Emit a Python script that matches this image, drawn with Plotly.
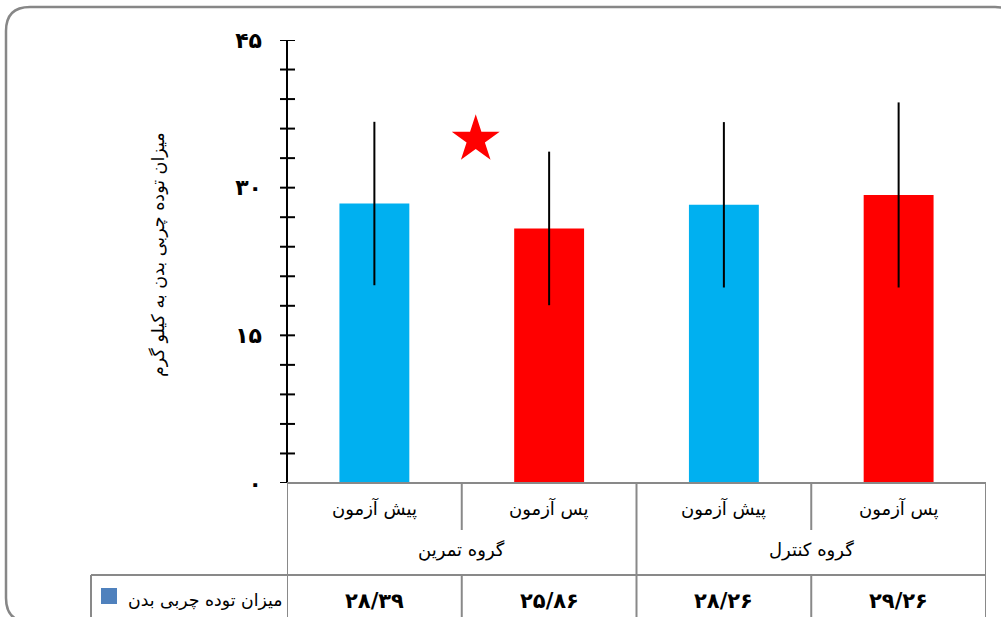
import plotly.graph_objects as go

# ---------------- data ----------------
categories = ["پیش آزمون", "پس آزمون", "پیش آزمون", "پس آزمون"]
groups = ["گروه تمرین", "گروه کنترل"]
values = [28.39, 25.86, 28.26, 29.26]
errors = [8.3, 7.8, 8.4, 9.4]
bar_colors = ["#00B0F0", "#FF0000", "#00B0F0", "#FF0000"]
series_name = "میزان توده چربی بدن"
y_title = "میزان توده چربی بدن به کیلو گرم"
y_tickvals = [0, 15, 30, 45]
y_ticktext = ["۰", "۱۵", "۳۰", "۴۵"]
star_x = [0.58]
star_y = [34.9]

FA = str.maketrans("0123456789.", "۰۱۲۳۴۵۶۷۸۹/")
value_labels = [f"{v:.2f}".translate(FA) for v in values]

# ---------------- layout geometry ----------------
W, H = 1001, 617
L, R, T, B = 287, 15, 40, 134
PW, PH = W - L - R, H - T - B
FONT = "DejaVu Sans"
GRID = "#898989"


def px(xp):
    return (xp - L) / PW


def py(yp):
    return (H - B - yp) / PH


x_idx = list(range(len(categories)))

fig = go.Figure()
fig.add_trace(go.Bar(
    x=x_idx, y=values, width=0.4, marker=dict(color=bar_colors, line=dict(width=0)),
    error_y=dict(type="data", array=errors, visible=True, color="black", thickness=2, width=0),
    showlegend=False,
))
fig.add_trace(go.Scatter(
    x=star_x, y=star_y, mode="markers", cliponaxis=False, showlegend=False,
    marker=dict(symbol="star", size=36, color="#FF0000", line=dict(width=0)),
))

shapes = []
# y axis ticks (crossing the axis)
for v in range(0, 46, 3):
    shapes.append(dict(type="line", xref="paper", yref="y", x0=px(280), x1=px(295), y0=v, y1=v,
                       line=dict(color="black", width=2)))
# y axis line
shapes.append(dict(type="line", xref="paper", yref="y", x0=0, x1=0, y0=0, y1=45,
                   line=dict(color="black", width=2)))

# table lines
row1 = py(530)
row2 = py(575)
bottom = py(640)
left_edge = -0.5
right_edge = len(categories) - 0.5


def hline(x0, x1, y, xref="x"):
    shapes.append(dict(type="line", xref=xref, yref="paper", x0=x0, x1=x1, y0=y, y1=y,
                       line=dict(color=GRID, width=2)))


def vline(x, y0, y1, xref="x"):
    shapes.append(dict(type="line", xref=xref, yref="paper", x0=x, x1=x, y0=y0, y1=y1,
                       line=dict(color=GRID, width=2)))


hline(left_edge, right_edge, 0)
vline(left_edge, 0, bottom)
vline(right_edge, 0, bottom)
vline(1.5, 0, bottom)
for xb in (0.5, 2.5):
    vline(xb, 0, row1)
    vline(xb, row2, bottom)
# legend row top line and left edge
shapes.append(dict(type="line", xref="paper", yref="paper", x0=px(91), x1=1, y0=row2, y1=row2,
                   line=dict(color=GRID, width=2)))
shapes.append(dict(type="line", xref="paper", yref="paper", x0=px(91), x1=px(91), y0=row2, y1=bottom,
                   line=dict(color=GRID, width=2)))
# legend swatch
shapes.append(dict(type="rect", xref="paper", yref="paper", x0=px(101), x1=px(117), y0=py(604), y1=py(588),
                   fillcolor="#4F81BD", line=dict(width=0)))

# outer rounded border
r = 24
x0b, y0b, x1b, y1b = 6, 7, 1019, 622


def pt(xp, yp):
    return f"{px(xp)},{py(yp)}"


path = (f"M {pt(x0b + r, y0b)} L {pt(x1b - r, y0b)} Q {pt(x1b, y0b)} {pt(x1b, y0b + r)} "
        f"L {pt(x1b, y1b - r)} Q {pt(x1b, y1b)} {pt(x1b - r, y1b)} "
        f"L {pt(x0b + r, y1b)} Q {pt(x0b, y1b)} {pt(x0b, y1b - r)} "
        f"L {pt(x0b, y0b + r)} Q {pt(x0b, y0b)} {pt(x0b + r, y0b)} Z")
shapes.append(dict(type="path", xref="paper", yref="paper", path=path,
                   line=dict(color="#878787", width=2.5), fillcolor="rgba(0,0,0,0)"))

annotations = []


def ann(x, y, text, size, xref="x", bold=False, xanchor="center", angle=0):
    f = dict(family=FONT, size=size, color="black")
    if bold:
        f["weight"] = "bold"
    annotations.append(dict(x=x, y=y, xref=xref, yref="paper", text=text, showarrow=False,
                            xanchor=xanchor, yanchor="middle", textangle=angle, font=f))


for i, c in enumerate(categories):
    ann(i, py(508), c, 18)
    ann(i, py(601), value_labels[i], 21, bold=True)
for g, name in enumerate(groups):
    ann(2 * g + 0.5, py(550), name, 18)
ann(px(284), py(600), series_name, 17.3, xref="paper", xanchor="right")
ann(px(158), py(255), y_title, 17.5, xref="paper", angle=-90)

fig.update_layout(
    width=W, height=H, autosize=False,
    margin=dict(l=L, r=R, t=T, b=B, pad=0),
    paper_bgcolor="white", plot_bgcolor="white",
    xaxis=dict(range=[left_edge, right_edge], showticklabels=False, showgrid=False, zeroline=False,
               showline=False, ticks="", fixedrange=True),
    yaxis=dict(range=[0, 45], tickvals=y_tickvals, ticktext=y_ticktext, showgrid=False, zeroline=False,
               showline=False, ticks="", ticklabelstandoff=24,
               tickfont=dict(family=FONT, size=22, color="black", weight="bold")),
    shapes=shapes, annotations=annotations,
    bargap=0.6,
)

fig.write_html("out.html", config={"displayModeBar": False},
               post_script="document.body.style.margin='0px';")
